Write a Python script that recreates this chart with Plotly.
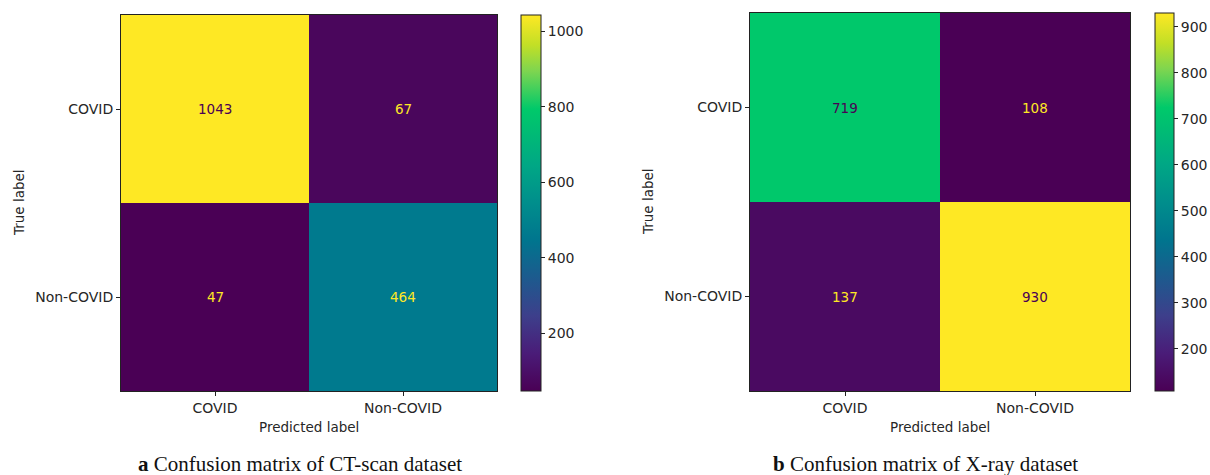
import plotly.graph_objects as go

# Class labels shared by both confusion matrices
classes = ["COVID", "Non-COVID"]

# Counts: rows = true label, columns = predicted label
ct_scan_counts = [[1043, 67], [47, 464]]
xray_counts = [[719, 108], [137, 930]]

ct_cbar_ticks = [200, 400, 600, 800, 1000]
xray_cbar_ticks = [200, 300, 400, 500, 600, 700, 800, 900]

captions = [
    "<b>a</b> Confusion matrix of CT-scan dataset",
    "<b>b</b> Confusion matrix of X-ray dataset",
]

# Vivid viridis-like colour ramp
colorscale = [
    [0.00, "#4a0055"],
    [0.10, "#4a1c78"],
    [0.20, "#3d3f8b"],
    [0.30, "#1d5a8e"],
    [0.40, "#00758e"],
    [0.50, "#008e8c"],
    [0.60, "#00a785"],
    [0.70, "#00be72"],
    [0.75, "#00c96a"],
    [0.85, "#7dd550"],
    [0.92, "#c2df26"],
    [1.00, "#fee824"],
]

W, H = 1210, 475
FONT = "DejaVu Sans"
TXT = "#262626"
LOW_TXT = "#4a0055"
HIGH_TXT = "#fee824"
TICK_SIZE = 14


def px_x(v):
    return v / W


def px_y(v):
    return 1 - v / H


panels = [
    dict(counts=ct_scan_counts, ticks=ct_cbar_ticks,
         box=(121, 497, 15, 391), cbar_x=521, cbar_w=20, cap_x=300),
    dict(counts=xray_counts, ticks=xray_cbar_ticks,
         box=(750, 1130, 13, 391), cbar_x=1155, cbar_w=19, cap_x=925),
]

fig = go.Figure()
annotations = []

for i, p in enumerate(panels):
    n = "" if i == 0 else str(i + 1)
    x0, x1, y0, y1 = p["box"]
    z = p["counts"]
    flat = [v for row in z for v in row]
    zmin, zmax = min(flat), max(flat)
    thresh = (zmin + zmax) / 2.0

    fig.add_trace(go.Heatmap(
        z=z, x=classes, y=classes,
        colorscale=colorscale, zmin=zmin, zmax=zmax,
        xaxis="x" + n, yaxis="y" + n,
        hoverinfo="skip",
        colorbar=dict(
            x=px_x(p["cbar_x"]), xanchor="left", xpad=0,
            y=px_y(y0), yanchor="top", ypad=0,
            len=(y1 - y0) / H, lenmode="fraction",
            thickness=p["cbar_w"], thicknessmode="pixels",
            outlinewidth=1, outlinecolor="#222",
            tickvals=p["ticks"], ticks="outside", ticklen=4,
            tickcolor="#222", tickwidth=1,
            tickfont=dict(family=FONT, size=TICK_SIZE, color=TXT),
        ),
    ))

    fig.update_layout(**{
        "xaxis" + n: dict(
            domain=[px_x(x0), px_x(x1)], anchor="y" + n,
            showline=True, mirror=True, linecolor="#222", linewidth=1,
            ticks="outside", ticklen=4, tickcolor="#222",
            tickfont=dict(family=FONT, size=TICK_SIZE, color=TXT),
            showgrid=False, zeroline=False, fixedrange=True,
        ),
        "yaxis" + n: dict(
            domain=[px_y(y1), px_y(y0)], anchor="x" + n,
            autorange="reversed",
            showline=True, mirror=True, linecolor="#222", linewidth=1,
            ticks="outside", ticklen=4, tickcolor="#222",
            tickfont=dict(family=FONT, size=TICK_SIZE, color=TXT),
            showgrid=False, zeroline=False, fixedrange=True,
        ),
    })

    # Cell counts, dark text on bright cells and bright text on dark cells
    for r, true_lbl in enumerate(classes):
        for c, pred_lbl in enumerate(classes):
            v = z[r][c]
            annotations.append(dict(
                x=pred_lbl, y=true_lbl, xref="x" + n, yref="y" + n,
                text=str(v), showarrow=False,
                xanchor="center", yanchor="middle",
                font=dict(family=FONT, size=13.5,
                          color=LOW_TXT if v > thresh else HIGH_TXT),
            ))

    # Axis titles
    annotations.append(dict(
        x=px_x((x0 + x1) / 2), y=px_y(427), xref="paper", yref="paper",
        text="Predicted label", showarrow=False,
        xanchor="center", yanchor="middle",
        font=dict(family=FONT, size=13.5, color=TXT),
    ))
    annotations.append(dict(
        x=px_x(x0 - 102), y=px_y((y0 + y1) / 2), xref="paper", yref="paper",
        text="True label", showarrow=False, textangle=-90,
        xanchor="center", yanchor="middle",
        font=dict(family=FONT, size=13.5, color=TXT),
    ))
    # Sub-figure caption
    annotations.append(dict(
        x=px_x(p["cap_x"]), y=px_y(464), xref="paper", yref="paper",
        text=captions[i], showarrow=False,
        xanchor="center", yanchor="middle",
        font=dict(family="Liberation Serif", size=21, color="#111"),
    ))

fig.update_layout(
    width=W, height=H,
    margin=dict(l=0, r=0, t=0, b=0),
    paper_bgcolor="white", plot_bgcolor="white",
    annotations=annotations,
    showlegend=False,
)

fig.write_html("out.html", config={"displayModeBar": False})
